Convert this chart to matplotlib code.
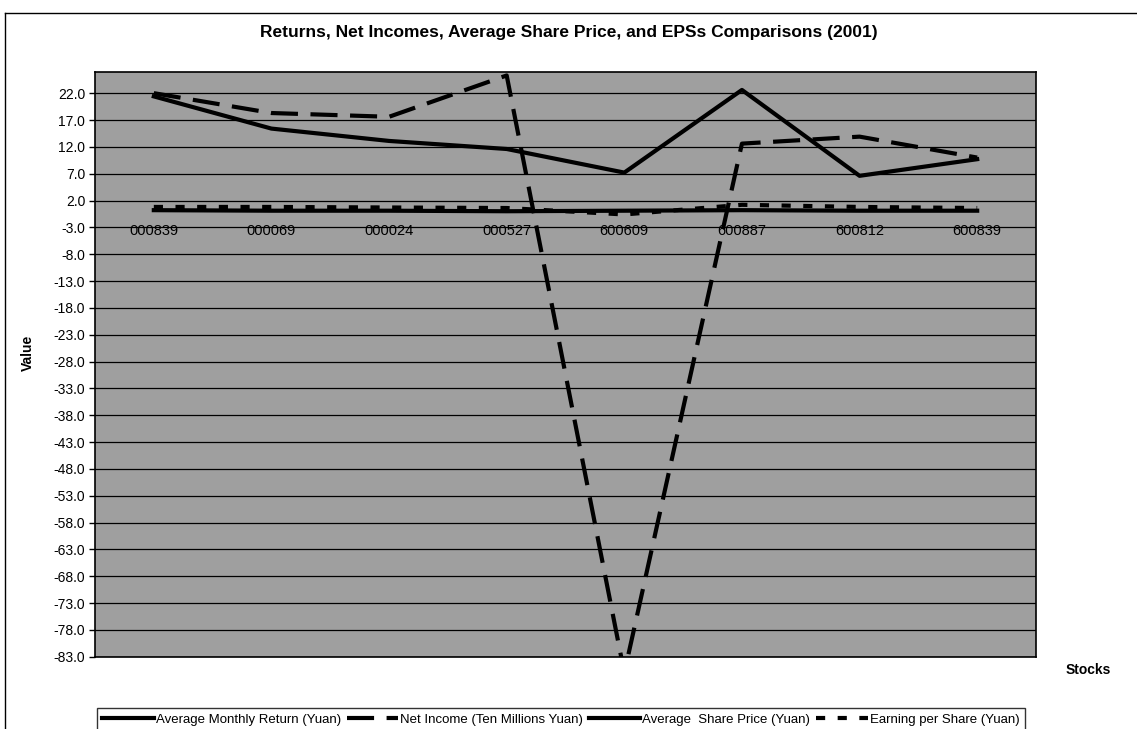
import matplotlib
matplotlib.use("Agg")
import matplotlib.pyplot as plt
from matplotlib.lines import Line2D
import numpy as np

plt.rcParams['font.family'] = ['Liberation Sans', 'DejaVu Sans']

# 2001 figures per stock
stocks = ['000839', '000069', '000024', '000527', '600609', '600887', '600812', '600839']
monthly_return = [0.2, 0.1, 0.1, 0.0, 0.1, 0.2, 0.1, 0.1]
net_income = [22.0, 18.3, 17.6, 25.3, -86.0, 12.6, 13.9, 10.0]
share_price = [21.4, 15.4, 13.1, 11.6, 7.2, 22.6, 6.6, 9.7]
eps = [0.8, 0.8, 0.7, 0.6, -0.6, 1.2, 0.8, 0.6]

y_ticks = np.arange(-83, 23, 5)

fig = plt.figure(figsize=(11.37, 7.29), dpi=100)
ax = fig.add_axes([95 / 1137, 1 - 656.7 / 729, (1036 - 95) / 1137, (656.7 - 71.7) / 729])
ax.set_facecolor('#9f9f9f')

x = np.arange(len(stocks))
ax.plot(x, monthly_return, color='black', lw=3,
        label='Average Monthly Return (Yuan)', zorder=3)
ax.plot(x, net_income, color='black', lw=3, dashes=(6.5, 3),
        label='Net Income (Ten Millions Yuan)', zorder=3)
ax.plot(x, share_price, color='black', lw=3,
        label='Average  Share Price (Yuan)', zorder=3)
ax.plot(x, eps, color='black', lw=3, dashes=(2.2, 3),
        label='Earning per Share (Yuan)', zorder=3)

ax.set_xlim(-0.5, 7.5)
ax.set_ylim(-83, 26)
ax.set_yticks(y_ticks)
ax.set_yticklabels([f'{v:.1f}' for v in y_ticks], fontsize=10)
ax.tick_params(axis='y', direction='out', length=4, width=1, pad=3)
ax.set_xticks([])
ax.grid(axis='y', color='black', lw=0.9, zorder=1)
ax.set_axisbelow(True)
for sp in ax.spines.values():
    sp.set_color('black')
    sp.set_linewidth(1.2)

# category labels sit next to the zero line, as in a spreadsheet chart
for i, name in enumerate(stocks):
    ax.text(i, -3.7, name, ha='center', va='center', fontsize=10.5, zorder=4)

ax.set_ylabel('Value', fontsize=10, fontweight='bold')
ax.yaxis.set_label_coords(-0.064, 0.52)
fig.text(1088 / 1137, 1 - 670 / 729, 'Stocks', ha='center', va='center',
         fontsize=10, fontweight='bold')

fig.text(569 / 1137, 1 - 32 / 729,
         'Returns, Net Incomes, Average Share Price, and EPSs Comparisons (2001)',
         ha='center', va='center', fontsize=12.5, fontweight='bold')

# outer chart border (runs off the right and bottom edges)
fig.add_artist(Line2D([5 / 1137, 1.0], [1 - 13 / 729] * 2, color='black', lw=1))
fig.add_artist(Line2D([5 / 1137] * 2, [0.0, 1 - 13 / 729], color='black', lw=1))

leg = fig.legend(loc='upper left', bbox_to_anchor=(97 / 1137, 1 - 708 / 729),
                 ncol=4, fontsize=9.5, frameon=True, fancybox=False,
                 handlelength=3.9, handletextpad=0.15, columnspacing=0.45,
                 borderpad=0.4, borderaxespad=0)
leg.get_frame().set_edgecolor('black')
leg.get_frame().set_linewidth(1)

fig.savefig('out.png', dpi=100)
